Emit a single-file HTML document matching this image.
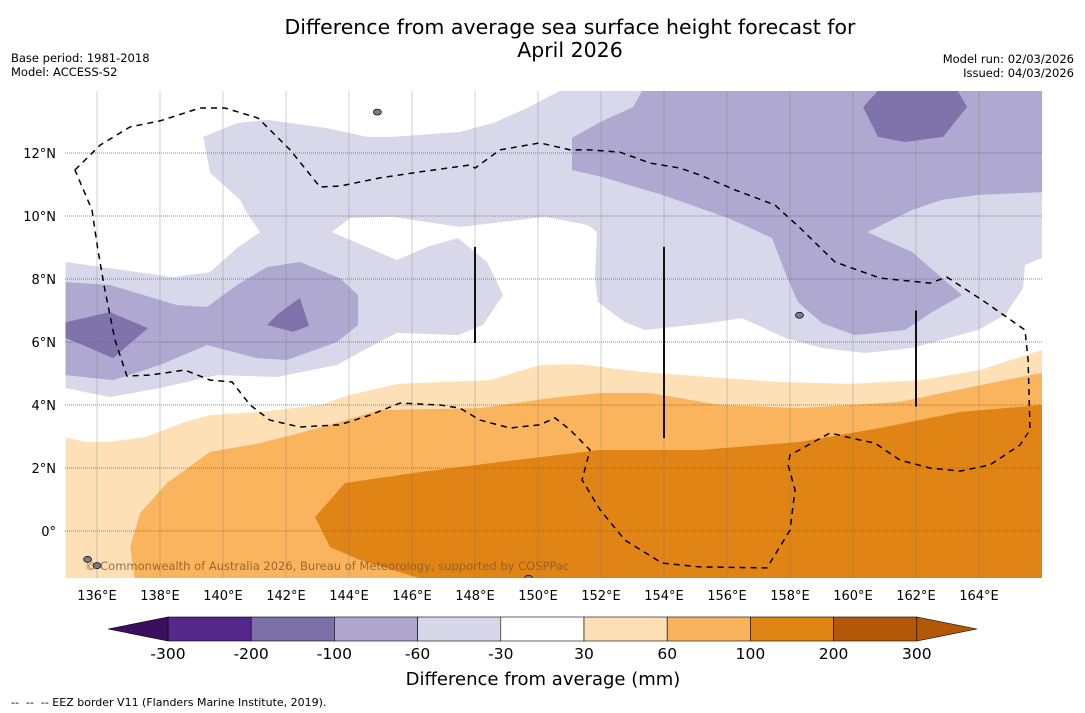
<!DOCTYPE html>
<html><head><meta charset="utf-8">
<style>
body{margin:0;background:#fff;font-family:"DejaVu Sans","Liberation Sans",sans-serif;}
#wrap{position:relative;width:1085px;height:713px;overflow:hidden;background:#fff;}
svg text{font-family:"DejaVu Sans","Liberation Sans",sans-serif;white-space:pre;}
</style></head>
<body>
<div id="wrap">
<svg id="svg" width="1085" height="713" xmlns="http://www.w3.org/2000/svg">
<text x="570" y="34" text-anchor="middle" font-size="20.5" fill="#000">Difference from average sea surface height forecast for</text>
<text x="570" y="57" text-anchor="middle" font-size="20.5" fill="#000">April 2026</text>
<text x="11" y="62" font-size="11.5">Base period: 1981-2018</text>
<text x="11" y="76" font-size="11.5">Model: ACCESS-S2</text>
<text x="1074" y="63" font-size="11.5" text-anchor="end">Model run: 02/03/2026</text>
<text x="1074" y="77" font-size="11.5" text-anchor="end">Issued: 04/03/2026</text>
<defs><clipPath id="mapclip"><rect x="65" y="91" width="977" height="487"/></clipPath></defs>
<g id="map" clip-path="url(#mapclip)"></g>
<g id="grid"></g>
<g id="overlay" clip-path="url(#mapclip)"></g>
<g id="axes"></g>
<g id="cbar"></g>
<text x="543" y="685" text-anchor="middle" font-size="18">Difference from average (mm)</text>
<text x="11" y="706" font-size="11" xml:space="preserve">--  --  -- EEZ border V11 (Flanders Marine Institute, 2019).</text>
<text x="85" y="570" font-size="11.5" fill="#8a5a2a" fill-opacity="0.85">© Commonwealth of Australia 2026, Bureau of Meteorology, supported by COSPPac</text>
</svg>
</div>
<script>
// ---- data ----
const lonTicks = [136,138,140,142,144,146,148,150,152,154,156,158,160,162,164];
const latTicks = [0,2,4,6,8,10,12];
const latLabels = ["0°","2°N","4°N","6°N","8°N","10°N","12°N"];
const cbarLevels = [-300,-200,-100,-60,-30,30,60,100,200,300];
const cbarColors = ["#55288e","#7e6ea9","#aea6cf","#d8d7e9","#ffffff","#fddfb3","#f9b35c","#e08414"];
const cbarUnder = "#3b0f5e";
const cbarOver = "#b35807";
const cbarTopColor = "#b35807";
// contour polygons [lon,lat]
const lightPurple = [[139.37,12.51],[140.44,12.95],[141.40,13.05],[143.30,12.79],[144.57,12.51],[145.40,12.51],[147.52,12.67],[148.57,12.95],[149.65,13.43],[150.70,13.97],[166,13.97],[166,8.67],[165.46,8.44],[165.40,7.71],[164.83,6.86],[163.97,6.38],[161.87,5.81],[160.38,5.65],[159.02,5.81],[157.84,6.13],[156.48,6.76],[155.40,6.60],[153.40,6.38],[152.76,6.63],[151.90,7.27],[151.81,8.03],[151.87,9.49],[151.59,9.71],[150.22,9.97],[147.52,9.65],[145.40,9.97],[144.03,9.94],[143.46,9.49],[145.52,8.60],[146.48,9.02],[147.46,9.30],[148.38,8.54],[148.70,7.90],[148.89,7.49],[148.25,6.54],[147.46,6.22],[145.52,6.29],[144.35,5.68],[143.62,5.27],[141.71,4.89],[139.81,4.95],[138.00,4.54],[136.41,4.25],[135.0,4.54],[135.0,8.54],[138.41,8.06],[139.59,8.22],[140.44,8.98],[141.17,9.49],[140.76,10.10],[140.54,10.51],[139.59,11.37]];
const midPurpleRight = [[153.02,13.46],[153.30,13.97],[166,13.97],[166,10.76],[163.97,10.67],[162.83,10.51],[161.87,10.19],[160.45,9.49],[161.87,8.86],[163.46,7.49],[162.51,6.95],[161.65,6.38],[160.06,6.22],[159.02,6.60],[158.25,7.27],[157.84,8.22],[157.43,9.30],[156.03,9.94],[153.94,10.67],[152.03,11.24],[151.08,11.46],[151.08,12.48],[151.97,12.98]];
const darkPurpleRight = [[160.32,13.46],[160.79,13.97],[163.33,13.97],[163.62,13.46],[162.86,12.51],[161.65,12.35],[160.79,12.51]];
const midPurpleLeft = [[135.0,7.90],[136.41,7.81],[138.54,7.17],[139.49,7.11],[140.44,7.81],[141.40,8.38],[142.44,8.54],[143.71,8.03],[144.29,7.49],[144.29,6.54],[143.62,6.00],[142.03,5.43],[141.08,5.49],[139.49,5.90],[138.00,5.27],[136.51,4.79],[135.0,4.95]];
const darkPurpleLeft = [[135.0,6.63],[136.41,6.95],[137.62,6.44],[136.51,5.49],[135.56,5.90],[135.0,6.13]];
const darkPurpleSmall = [[141.40,6.54],[141.71,6.86],[142.44,7.40],[142.73,6.51],[142.22,6.32]];
const lightOrange = [[135.0,2.98],[135.62,2.83],[136.41,2.83],[137.52,2.98],[138.79,3.46],[139.59,3.68],[141.17,3.78],[143.08,4.0],[144.03,4.32],[145.56,4.67],[148.48,4.79],[150.06,5.27],[151.33,5.30],[153.24,5.05],[155.78,4.86],[157.68,4.73],[159.90,4.67],[162.13,4.79],[164.03,5.11],[166,5.75],[166,-1.6],[135,-1.6]];
const midOrange = [[137.21,-1.6],[137.05,-0.51],[137.37,0.57],[138.22,1.52],[139.59,2.51],[141.17,2.79],[142.44,3.11],[143.40,3.37],[144.98,3.84],[148.16,3.90],[150.38,4.22],[151.97,4.38],[153.56,4.38],[155.78,4.0],[158.32,3.90],[161.49,4.10],[164.03,4.63],[166,5.02],[166,-1.6]];
const darkOrange = [[146.57,-1.6],[145.40,-1.24],[144.35,-0.92],[143.40,-0.51],[142.92,0.44],[143.87,1.52],[146.25,1.87],[148.79,2.19],[151.97,2.57],[155.14,2.57],[158.32,2.83],[160.86,3.27],[163.40,3.78],[166,4.0],[166,-1.6]];
const eez = [[135.30,11.46],[136.10,12.25],[137.05,12.83],[138.00,13.02],[139.27,13.43],[140.06,13.43],[141.11,13.11],[142.13,12.10],[143.08,10.92],[143.71,10.95],[144.98,11.21],[146.25,11.40],[147.84,11.62],[148.0,11.52],[148.79,12.10],[150.06,12.32],[151.02,12.10],[151.65,12.10],[152.60,12.03],[153.56,11.68],[154.51,11.52],[155.14,11.30],[156.25,10.83],[157.52,10.35],[158.32,9.62],[159.43,8.54],[160.86,8.03],[162.44,7.87],[162.98,8.06],[164.19,7.27],[165.46,6.38],[165.56,5.43],[165.62,3.21],[165.30,2.73],[164.35,2.10],[163.40,1.90],[162.44,2.0],[161.49,2.25],[160.70,2.79],[160.22,2.89],[159.27,3.11],[158.0,2.41],[157.94,2.10],[158.16,1.30],[158.0,0.03],[157.27,-1.17],[155.14,-1.14],[153.94,-1.02],[152.76,-0.29],[151.97,0.67],[151.40,1.62],[151.65,2.57],[151.02,3.21],[150.54,3.59],[150.06,3.37],[149.11,3.27],[148.16,3.52],[147.52,3.90],[146.89,4.0],[145.62,4.06],[144.67,3.68],[143.71,3.37],[142.44,3.30],[141.49,3.52],[140.86,4.0],[140.29,4.73],[139.59,4.79],[138.79,5.11],[137.68,4.95],[136.95,4.92],[136.57,6.06],[136.25,7.65],[136.03,8.92],[135.84,10.19]];
const segLines = [[148,9.02,5.97],[154,9.02,2.95],[162,7.0,3.95]];
const islands = [[144.9,13.3],[158.3,6.85],[135.7,-0.9],[136.0,-1.1],[149.7,-1.5]];

// ---- axis functions ----
const X = lon => 97 + (lon-136)*31.5;
const Y = lat => 153 - (lat-12)*31.5;
const NS = "http://www.w3.org/2000/svg";
function mk(tag, parent){const e=document.createElementNS(NS,tag);parent.appendChild(e);return e;}
const map = document.getElementById('map');
const grid = document.getElementById('grid');
const overlay = document.getElementById('overlay');
const axes = document.getElementById('axes');
const cbar = document.getElementById('cbar');

function poly(pts, fill, name){
  const p = mk('polygon', map);
  p.setAttribute('points', pts.map(q=>X(q[0]).toFixed(1)+','+Y(q[1]).toFixed(1)).join(' '));
  p.setAttribute('fill', fill);
  
  
}
poly(lightPurple, '#d8d8ea', 'contour-light-purple');
poly(midPurpleRight, '#afa8d0', 'contour-mid-purple-east');
poly(midPurpleLeft, '#afa8d0', 'contour-mid-purple-west');
poly(darkPurpleRight, '#8073ac', 'contour-dark-purple-east');
poly(darkPurpleLeft, '#8073ac', 'contour-dark-purple-west');
poly(darkPurpleSmall, '#8073ac', 'contour-dark-purple-small');
poly(lightOrange, '#fde0b5', 'contour-light-orange');
poly(midOrange, '#f9b45d', 'contour-mid-orange');
poly(darkOrange, '#e08515', 'contour-dark-orange');

// gridlines
lonTicks.forEach(l=>{
  const ln = mk('line', grid);
  ln.setAttribute('x1',X(l));ln.setAttribute('x2',X(l));ln.setAttribute('y1',91);ln.setAttribute('y2',578);
  ln.setAttribute('stroke','#777');ln.setAttribute('stroke-width','0.6');ln.setAttribute('stroke-opacity','0.55');
  
  
  const t = mk('text', axes);
  t.setAttribute('x',X(l));t.setAttribute('y',600);t.setAttribute('text-anchor','middle');t.setAttribute('font-size','13');
  t.textContent = l+'°E';
  
  
});
latTicks.forEach((l,i)=>{
  const ln = mk('line', grid);
  ln.setAttribute('x1',65);ln.setAttribute('x2',1042);ln.setAttribute('y1',Y(l));ln.setAttribute('y2',Y(l));
  ln.setAttribute('stroke','#666');ln.setAttribute('stroke-width','0.8');ln.setAttribute('stroke-dasharray','1,1');
  
  
  const t = mk('text', axes);
  t.setAttribute('x',56);t.setAttribute('y',Y(l)+5);t.setAttribute('text-anchor','end');t.setAttribute('font-size','13');
  t.textContent = latLabels[i];
  
  
});

// EEZ
const ez = mk('polygon', overlay);
ez.setAttribute('points', eez.map(q=>X(q[0]).toFixed(1)+','+Y(q[1]).toFixed(1)).join(' '));
ez.setAttribute('fill','none');ez.setAttribute('stroke','#000');ez.setAttribute('stroke-width','1.5');ez.setAttribute('stroke-dasharray','6,5');


segLines.forEach(s=>{
  const ln = mk('line', overlay);
  ln.setAttribute('x1',X(s[0]));ln.setAttribute('x2',X(s[0]));ln.setAttribute('y1',Y(s[1]));ln.setAttribute('y2',Y(s[2]));
  ln.setAttribute('stroke','#111');ln.setAttribute('stroke-width','2');
  
  
});
islands.forEach(p=>{
  const c = mk('ellipse', overlay);
  c.setAttribute('cx',X(p[0]));c.setAttribute('cy',Y(p[1]));c.setAttribute('rx',4);c.setAttribute('ry',3);
  c.setAttribute('fill','#7a7a8a');c.setAttribute('stroke','#000');c.setAttribute('stroke-width','0.7');
  
  
});

// colorbar
const cbX = v => 168 + cbarLevels.indexOf(v)*83.2;
const cbY0 = 617, cbY1 = 641;
for(let i=0;i<cbarColors.length;i++){
  const r = mk('rect', cbar);
  r.setAttribute('x',cbX(cbarLevels[i]));r.setAttribute('y',cbY0);
  r.setAttribute('width',cbX(cbarLevels[i+1])-cbX(cbarLevels[i]));r.setAttribute('height',cbY1-cbY0);
  r.setAttribute('fill',cbarColors[i]);r.setAttribute('stroke','#000');r.setAttribute('stroke-width','0.6');
  
  
}
const r9 = mk('rect', cbar);
r9.setAttribute('x',cbX(200));r9.setAttribute('y',cbY0);r9.setAttribute('width',cbX(300)-cbX(200));r9.setAttribute('height',24);
r9.setAttribute('fill',cbarTopColor);r9.setAttribute('stroke','#000');r9.setAttribute('stroke-width','0.6');


const tl = mk('polygon', cbar);
tl.setAttribute('points',`108,629 ${cbX(-300)},${cbY0} ${cbX(-300)},${cbY1}`);
tl.setAttribute('fill',cbarUnder);tl.setAttribute('stroke','#000');tl.setAttribute('stroke-width','0.6');


const tr = mk('polygon', cbar);
tr.setAttribute('points',`977,629 ${cbX(300)},${cbY0} ${cbX(300)},${cbY1}`);
tr.setAttribute('fill',cbarOver);tr.setAttribute('stroke','#000');tr.setAttribute('stroke-width','0.6');


cbarLevels.forEach(v=>{
  const t = mk('text', cbar);
  t.setAttribute('x',cbX(v));t.setAttribute('y',659);t.setAttribute('text-anchor','middle');t.setAttribute('font-size','15.5');
  t.textContent = v;
  
  
});
</script>
</body></html>
